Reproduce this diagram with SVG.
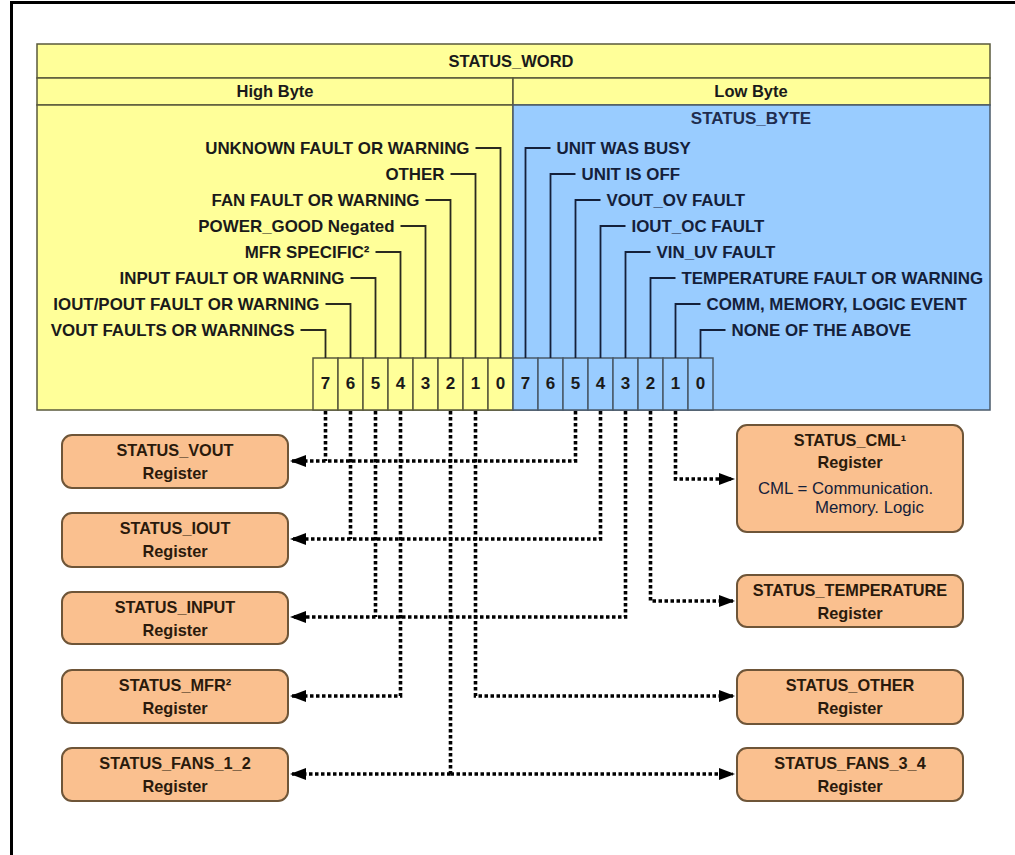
<svg xmlns="http://www.w3.org/2000/svg" width="1015" height="855" viewBox="0 0 1015 855">
<defs>
<style>
.lbl{font-family:"Liberation Sans",Arial,sans-serif;font-weight:bold;font-size:16.9px;fill:#1a1a1a}
.lblr{font-family:"Liberation Sans",Arial,sans-serif;font-weight:bold;font-size:16.9px;fill:#14203a}
.hdr{font-family:"Liberation Sans",Arial,sans-serif;font-weight:bold;font-size:16.5px;fill:#1a1a1a;text-anchor:middle}
.bit{font-family:"Liberation Sans",Arial,sans-serif;font-weight:bold;font-size:17px;fill:#1a1a1a;text-anchor:middle}
.reg{font-family:"Liberation Sans",Arial,sans-serif;font-weight:bold;font-size:16.3px;fill:#2a1a0c;text-anchor:middle}
.note{font-family:"Liberation Sans",Arial,sans-serif;font-size:16.8px;fill:#14203a}
.yel{fill:#FFFF99;stroke:#5a5a3c;stroke-width:1.5}
.blu{fill:#99CCFF;stroke:#4a5a6a;stroke-width:1.5}
.box{fill:#FAC08F;stroke:#6e5538;stroke-width:2}
.ldr{fill:none;stroke:#2a2a20;stroke-width:1.8}
.ldrb{fill:none;stroke:#14203a;stroke-width:1.8}
.con{fill:none;stroke:#000;stroke-width:3.6;stroke-dasharray:3.5 2.5}
</style>
<marker id="ah" viewBox="0 0 16 12" refX="14" refY="6" markerWidth="16" markerHeight="12" markerUnits="userSpaceOnUse" orient="auto">
<path d="M0,0 L16,6 L0,12 z" fill="#000"/>
</marker>
</defs>
<rect x="0" y="0" width="1015" height="855" fill="#fff"/>
<path d="M11.5,855 V2.5 H1015" fill="none" stroke="#000" stroke-width="3"/>

<g id="status_word">
<rect class="yel" x="37" y="44" width="953" height="34"/>
<text class="hdr" x="511" y="67">STATUS_WORD</text>
<rect class="yel" x="37" y="78" width="476" height="27"/>
<text class="hdr" x="275" y="97">High Byte</text>
<rect class="yel" x="513" y="78" width="477" height="27"/>
<text class="hdr" x="751" y="97">Low Byte</text>
<rect class="yel" x="37" y="105" width="476" height="305"/>
<rect class="blu" x="513" y="105" width="477" height="305"/>
<text class="hdr" x="751" y="124" style="fill:#1f2d4f;font-size:17px">STATUS_BYTE</text>
</g>

<g id="high_bits">
<rect class="yel" x="313" y="358" width="25" height="52"/>
<rect class="yel" x="338" y="358" width="25" height="52"/>
<rect class="yel" x="363" y="358" width="25" height="52"/>
<rect class="yel" x="388" y="358" width="25" height="52"/>
<rect class="yel" x="413" y="358" width="25" height="52"/>
<rect class="yel" x="438" y="358" width="25" height="52"/>
<rect class="yel" x="463" y="358" width="25" height="52"/>
<rect class="yel" x="488" y="358" width="25" height="52"/>
<text class="bit" x="325.5" y="389">7</text>
<text class="bit" x="350.5" y="389">6</text>
<text class="bit" x="375.5" y="389">5</text>
<text class="bit" x="400.5" y="389">4</text>
<text class="bit" x="425.5" y="389">3</text>
<text class="bit" x="450.5" y="389">2</text>
<text class="bit" x="475.5" y="389">1</text>
<text class="bit" x="500.5" y="389">0</text>
</g>

<g id="low_bits">
<rect class="blu" x="513" y="358" width="25" height="52"/>
<rect class="blu" x="538" y="358" width="25" height="52"/>
<rect class="blu" x="563" y="358" width="25" height="52"/>
<rect class="blu" x="588" y="358" width="25" height="52"/>
<rect class="blu" x="613" y="358" width="25" height="52"/>
<rect class="blu" x="638" y="358" width="25" height="52"/>
<rect class="blu" x="663" y="358" width="25" height="52"/>
<rect class="blu" x="688" y="358" width="25" height="52"/>
<text class="bit" x="525.5" y="389">7</text>
<text class="bit" x="550.5" y="389">6</text>
<text class="bit" x="575.5" y="389">5</text>
<text class="bit" x="600.5" y="389">4</text>
<text class="bit" x="625.5" y="389">3</text>
<text class="bit" x="650.5" y="389">2</text>
<text class="bit" x="675.5" y="389">1</text>
<text class="bit" x="700.5" y="389">0</text>
</g>

<g id="high_labels">
<path class="ldr" d="M475.5,148 H500.5 V358"/>
<path class="ldr" d="M450.5,174 H475.5 V358"/>
<path class="ldr" d="M425.5,200 H450.5 V358"/>
<path class="ldr" d="M400.5,226 H425.5 V358"/>
<path class="ldr" d="M375.5,252 H400.5 V358"/>
<path class="ldr" d="M350.5,278 H375.5 V358"/>
<path class="ldr" d="M325.5,304 H350.5 V358"/>
<path class="ldr" d="M300.5,330 H325.5 V358"/>
<text class="lbl" text-anchor="end" x="469.5" y="154">UNKNOWN FAULT OR WARNING</text>
<text class="lbl" text-anchor="end" x="444.5" y="180">OTHER</text>
<text class="lbl" text-anchor="end" x="419.5" y="206">FAN FAULT OR WARNING</text>
<text class="lbl" text-anchor="end" x="394.5" y="232">POWER_GOOD Negated</text>
<text class="lbl" text-anchor="end" x="369.5" y="258">MFR SPECIFIC²</text>
<text class="lbl" text-anchor="end" x="344.5" y="284">INPUT FAULT OR WARNING</text>
<text class="lbl" text-anchor="end" x="319.5" y="310">IOUT/POUT FAULT OR WARNING</text>
<text class="lbl" text-anchor="end" x="294.5" y="336">VOUT FAULTS OR WARNINGS</text>
</g>

<g id="low_labels">
<path class="ldrb" d="M550.5,148 H525.5 V358"/>
<path class="ldrb" d="M575.5,174 H550.5 V358"/>
<path class="ldrb" d="M600.5,200 H575.5 V358"/>
<path class="ldrb" d="M625.5,226 H600.5 V358"/>
<path class="ldrb" d="M650.5,252 H625.5 V358"/>
<path class="ldrb" d="M675.5,278 H650.5 V358"/>
<path class="ldrb" d="M700.5,304 H675.5 V358"/>
<path class="ldrb" d="M725.5,330 H700.5 V358"/>
<text class="lblr" x="556.5" y="154">UNIT WAS BUSY</text>
<text class="lblr" x="581.5" y="180">UNIT IS OFF</text>
<text class="lblr" x="606.5" y="206">VOUT_OV FAULT</text>
<text class="lblr" x="631.5" y="232">IOUT_OC FAULT</text>
<text class="lblr" x="656.5" y="258">VIN_UV FAULT</text>
<text class="lblr" x="681.5" y="284">TEMPERATURE FAULT OR WARNING</text>
<text class="lblr" x="706.5" y="310">COMM, MEMORY, LOGIC EVENT</text>
<text class="lblr" x="731.5" y="336">NONE OF THE ABOVE</text>
</g>

<g id="connectors">
<path class="con" d="M325.5,411 V461"/>
<path class="con" d="M575.5,411 V461 H292" marker-end="url(#ah)"/>
<path class="con" d="M350.5,411 V539"/>
<path class="con" d="M600.5,411 V539 H292" marker-end="url(#ah)"/>
<path class="con" d="M375.5,411 V617"/>
<path class="con" d="M625.5,411 V617 H292" marker-end="url(#ah)"/>
<path class="con" d="M400.5,411 V696 H292" marker-end="url(#ah)"/>
<path class="con" d="M475.5,411 V696 H733" marker-end="url(#ah)"/>
<path class="con" d="M450.5,411 V774"/>
<path class="con" d="M450.5,774 H292" marker-end="url(#ah)"/>
<path class="con" d="M450.5,774 H733" marker-end="url(#ah)"/>
<path class="con" d="M650.5,411 V601 H733" marker-end="url(#ah)"/>
<path class="con" d="M675.5,411 V479 H733" marker-end="url(#ah)"/>
</g>

<g id="status_vout">
<rect class="box" x="62" y="435" width="226" height="53" rx="10"/>
<text class="reg" x="175" y="456">STATUS_VOUT</text>
<text class="reg" x="175" y="479">Register</text>
</g>
<g id="status_iout">
<rect class="box" x="62" y="513" width="226" height="54" rx="10"/>
<text class="reg" x="175" y="534">STATUS_IOUT</text>
<text class="reg" x="175" y="557">Register</text>
</g>
<g id="status_input">
<rect class="box" x="62" y="592" width="226" height="52" rx="10"/>
<text class="reg" x="175" y="613">STATUS_INPUT</text>
<text class="reg" x="175" y="636">Register</text>
</g>
<g id="status_mfr">
<rect class="box" x="62" y="670" width="226" height="53" rx="10"/>
<text class="reg" x="175" y="691">STATUS_MFR²</text>
<text class="reg" x="175" y="714">Register</text>
</g>
<g id="status_fans_1_2">
<rect class="box" x="62" y="748" width="226" height="53" rx="10"/>
<text class="reg" x="175" y="769">STATUS_FANS_1_2</text>
<text class="reg" x="175" y="792">Register</text>
</g>

<g id="status_cml">
<rect class="box" x="737" y="425" width="226" height="107" rx="10"/>
<text class="reg" x="850" y="446">STATUS_CML¹</text>
<text class="reg" x="850" y="468">Register</text>
<text class="note" x="758" y="494">CML = Communication.</text>
<text class="note" x="815" y="513">Memory. Logic</text>
</g>
<g id="status_temperature">
<rect class="box" x="737" y="575" width="226" height="52" rx="10"/>
<text class="reg" x="850" y="596">STATUS_TEMPERATURE</text>
<text class="reg" x="850" y="619">Register</text>
</g>
<g id="status_other">
<rect class="box" x="737" y="670" width="226" height="54" rx="10"/>
<text class="reg" x="850" y="691">STATUS_OTHER</text>
<text class="reg" x="850" y="714">Register</text>
</g>
<g id="status_fans_3_4">
<rect class="box" x="737" y="748" width="226" height="53" rx="10"/>
<text class="reg" x="850" y="769">STATUS_FANS_3_4</text>
<text class="reg" x="850" y="792">Register</text>
</g>
</svg>
